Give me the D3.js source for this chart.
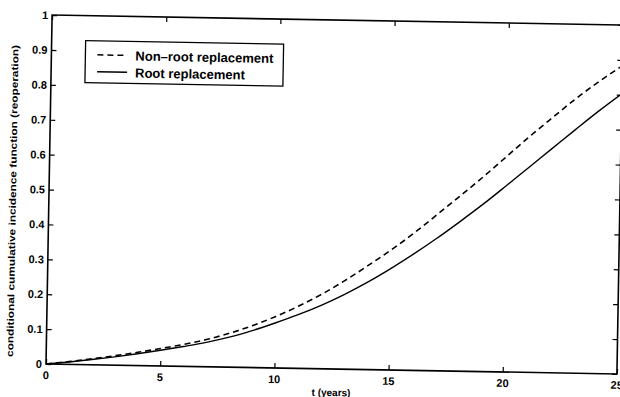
<!DOCTYPE html>
<html>
<head>
<meta charset="utf-8">
<script src="https://cdn.jsdelivr.net/npm/d3@7"></script>
<style>
body{margin:0;background:#fff;}
svg{display:block;font-family:"Liberation Sans",Arial,sans-serif;}
</style>
</head>
<body>
<div class="chart"></div>
<script>
// values
const years=[0,1,2,3,4,5,6,7,8,9,10,11,12,13,14,15,16,17,18,19,20,21,22,23,24,25];
const nonRoot=[0,0.008,0.017,0.027,0.038,0.05,0.063,0.078,0.097,0.12,0.147,0.178,0.213,0.253,0.297,0.343,0.393,0.447,0.502,0.558,0.617,0.676,0.732,0.787,0.837,0.883];
const root=[0,0.007,0.015,0.024,0.034,0.045,0.057,0.07,0.086,0.106,0.129,0.154,0.182,0.214,0.25,0.29,0.333,0.379,0.428,0.479,0.533,0.588,0.643,0.698,0.752,0.803];
const xTicks=[0,5,10,15,20,25];
const yTicks=[0,0.1,0.2,0.3,0.4,0.5,0.6,0.7,0.8,0.9,1];
const legendLabels=['Non\u2013root replacement','Root replacement'];

const width=620, height=397;
const left=46, bottom=364, plotW=571, plotH=349;

const svg=d3.select('.chart')
	.append('svg')
	.attr('width',width)
	.attr('height',height)

// the scan is tilted about one degree
const g=svg.append('g')
	.attr('transform','rotate(1,'+left+','+bottom+')')

const x=d3.scaleLinear().domain([0,25]).range([left,left+plotW]);
const y=d3.scaleLinear().domain([0,1]).range([bottom,bottom-plotH]);

// inward ticks on all sides, matlab style
g.append('g')
	.attr('transform','translate(0,'+bottom+')')
	.call(d3.axisTop(x).tickValues(xTicks).tickSize(5).tickFormat(''))
g.append('g')
	.attr('transform','translate(0,'+(bottom-plotH)+')')
	.call(d3.axisBottom(x).tickValues(xTicks).tickSize(5).tickFormat(''))
g.append('g')
	.attr('transform','translate('+left+',0)')
	.call(d3.axisRight(y).tickValues(yTicks).tickSize(5).tickFormat(''))
g.append('g')
	.attr('transform','translate('+(left+plotW)+',0)')
	.call(d3.axisLeft(y).tickValues(yTicks).tickSize(5).tickFormat(''))
g.selectAll('.domain').remove()
g.selectAll('.tick line').attr('stroke','#000').attr('stroke-width',1.2)

g.append('rect')
	.attr('x',left)
	.attr('y',bottom-plotH)
	.attr('width',plotW)
	.attr('height',plotH)
	.attr('fill','none')
	.attr('stroke','#000')
	.attr('stroke-width',1.6)

// tick labels
g.selectAll('.xlab')
	.data(xTicks)
	.enter()
	.append('text')
	.attr('x',d=>x(d))
	.attr('y',bottom+15)
	.attr('text-anchor','middle')
	.attr('font-size',11)
	.attr('font-weight','bold')
	.text(d=>d)

g.selectAll('.ylab')
	.data(yTicks)
	.enter()
	.append('text')
	.attr('x',left-4)
	.attr('y',d=>y(d)+4)
	.attr('text-anchor','end')
	.attr('font-size',11)
	.attr('font-weight','bold')
	.text(d=>d)

g.append('text')
	.attr('x',left+plotW/2)
	.attr('y',bottom+27)
	.attr('text-anchor','middle')
	.attr('font-size',10)
	.attr('font-weight','bold')
	.text('t (years)')

g.append('text')
	.attr('transform','translate(13,'+(bottom-plotH/2+12)+') rotate(-90)')
	.attr('text-anchor','middle')
	.attr('font-size',9.5)
	.attr('font-weight','bold')
	.attr('textLength',312)
	.attr('lengthAdjust','spacingAndGlyphs')
	.text('conditional cumulative incidence function (reoperation)')

// curves
const line=d3.line()
	.x((d,i)=>x(years[i]))
	.y(d=>y(d))
	.curve(d3.curveMonotoneX)

g.append('path')
	.attr('d',line(nonRoot))
	.attr('fill','none')
	.attr('stroke','#000')
	.attr('stroke-width',1.6)
	.attr('stroke-dasharray','6,4')

g.append('path')
	.attr('d',line(root))
	.attr('fill','none')
	.attr('stroke','#000')
	.attr('stroke-width',1.4)

// legend
const leg=g.append('g').attr('transform','translate(80,40)')
leg.append('rect')
	.attr('width',198)
	.attr('height',42)
	.attr('fill','#fff')
	.attr('stroke','#000')
	.attr('stroke-width',1.3)
leg.selectAll('line')
	.data(legendLabels)
	.enter()
	.append('line')
	.attr('x1',12)
	.attr('x2',42)
	.attr('y1',(d,i)=>14+i*17)
	.attr('y2',(d,i)=>14+i*17)
	.attr('stroke','#000')
	.attr('stroke-width',1.5)
	.attr('stroke-dasharray',(d,i)=>i==0?'6,4':null)
leg.selectAll('text')
	.data(legendLabels)
	.enter()
	.append('text')
	.attr('x',50)
	.attr('y',(d,i)=>19+i*17)
	.attr('font-size',13)
	.attr('font-weight','bold')
	.text(d=>d)
</script>
</body>
</html>
